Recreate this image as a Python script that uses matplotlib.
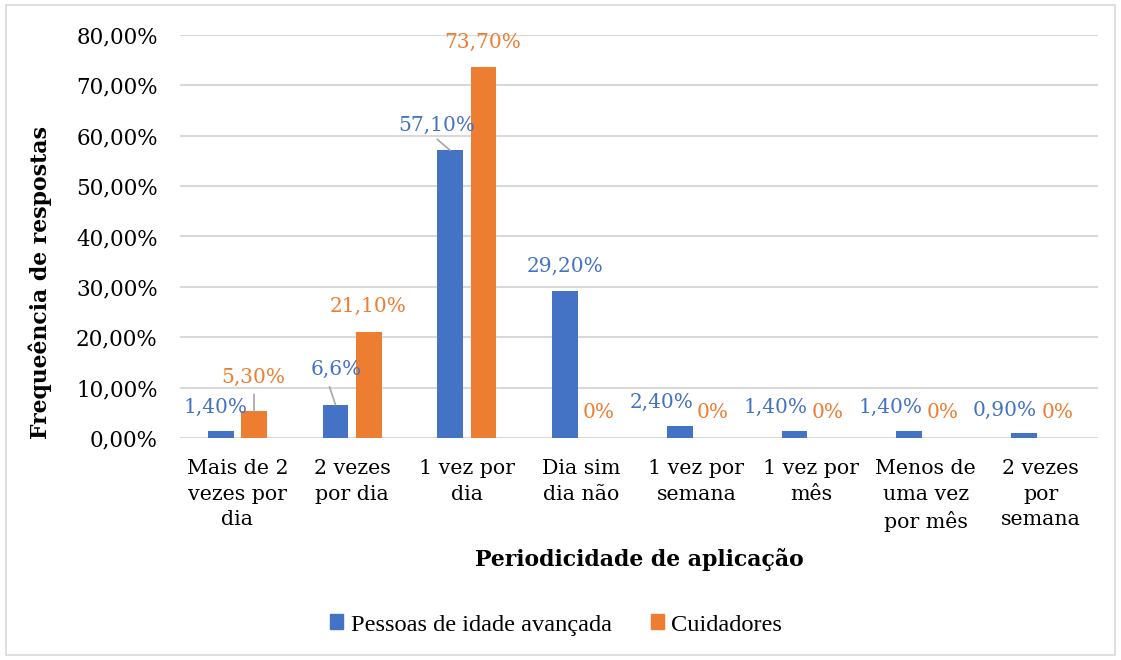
import matplotlib
matplotlib.use("Agg")
import matplotlib.pyplot as plt
from matplotlib.patches import Rectangle
import numpy as np

categories = ["Mais de 2\nvezes por\ndia", "2 vezes\npor dia", "1 vez por\ndia", "Dia sim\ndia não",
              "1 vez por\nsemana", "1 vez por\nmês", "Menos de\numa vez\npor mês", "2 vezes\npor\nsemana"]
pessoas = [1.4, 6.6, 57.1, 29.2, 2.4, 1.4, 1.4, 0.9]
cuidadores = [5.3, 21.1, 73.7, 0, 0, 0, 0, 0]
pessoas_labels = ["1,40%", "6,6%", "57,10%", "29,20%", "2,40%", "1,40%", "1,40%", "0,90%"]
cuidadores_labels = ["5,30%", "21,10%", "73,70%", "0%", "0%", "0%", "0%", "0%"]
yticks = [0, 10, 20, 30, 40, 50, 60, 70, 80]
ytick_labels = ["0,00%", "10,00%", "20,00%", "30,00%", "40,00%", "50,00%", "60,00%", "70,00%", "80,00%"]

blue = "#4472C4"
orange = "#ED7D31"
serif = "DejaVu Serif"

fig = plt.figure(figsize=(11.21, 6.6), dpi=100)
fig.patches.append(Rectangle((6/1121, 5/660), 1109/1121, 650/660, transform=fig.transFigure,
                             fill=False, edgecolor="#d9d9d9", linewidth=1.2))
ax = fig.add_axes([180/1121, 1 - 438/660, 918/1121, 403/660])

x = np.arange(len(categories))
w = 0.226
off = 0.145
ax.bar(x - off, pessoas, w, color=blue, zorder=3)
ax.bar(x + off, cuidadores, w, color=orange, zorder=3)

ax.set_xlim(-0.5, len(categories) - 0.5)
ax.set_ylim(0, 80)
ax.set_yticks(yticks)
ax.set_yticklabels(ytick_labels, fontfamily=serif, fontsize=15.5)
ax.set_xticks(x)
ax.set_xticklabels(categories, fontfamily=serif, fontsize=14.8, linespacing=1.45)
ax.tick_params(axis="both", length=0)
ax.tick_params(axis="y", pad=16)
ax.tick_params(axis="x", pad=15)
for s in ax.spines.values():
    s.set_visible(False)
ax.grid(axis="y", color="#d9d9d9", linewidth=1.5, zorder=0)
ax.set_axisbelow(True)

ax.set_ylabel("Frequeência de respostas", fontfamily=serif, fontsize=15.8, fontweight="bold")
ax.yaxis.set_label_coords(-0.139, 0.385)
ax.set_xlabel("Periodicidade de aplicação", fontfamily=serif, fontsize=15.8, fontweight="bold", labelpad=11)

# data label offsets in pixels (dx, dy) relative to bar top center
p_off = [(-5, 24), (1, 35), (-13, 25), (0, 24), (-18, 24), (-19, 24), (-19, 24), (-19, 23)]
c_off = [(-1, 34), (-1, 25), (-1, 24), (0, 25), (0, 25), (0, 25), (0, 25), (0, 25)]
for i in range(len(categories)):
    ax.annotate(pessoas_labels[i], (x[i] - off, pessoas[i]), xytext=p_off[i], textcoords="offset pixels",
                ha="center", va="center", color=blue, fontfamily=serif, fontsize=14.5, zorder=5)
    ax.annotate(cuidadores_labels[i], (x[i] + off, cuidadores[i]), xytext=c_off[i], textcoords="offset pixels",
                ha="center", va="center", color=orange, fontfamily=serif, fontsize=14.5, zorder=5)

# leader lines
ax.annotate("", (x[0] + off, cuidadores[0]), xytext=(0, 17), textcoords="offset pixels",
            arrowprops=dict(arrowstyle="-", color="#a6a6a6", lw=1.2, shrinkA=0, shrinkB=0))
ax.annotate("", (x[1] - off, pessoas[1]), xytext=(-6, 18), textcoords="offset pixels",
            arrowprops=dict(arrowstyle="-", color="#a6a6a6", lw=1.2, shrinkA=0, shrinkB=0))
ax.annotate("", (x[2] - off, pessoas[2]), xytext=(-13, 11), textcoords="offset pixels",
            arrowprops=dict(arrowstyle="-", color="#a6a6a6", lw=1.2, shrinkA=0, shrinkB=0))

handles = [Rectangle((0, 0), 1, 1, color=blue), Rectangle((0, 0), 1, 1, color=orange)]
fig.legend(handles, ["Pessoas de idade avançada", "Cuidadores"], loc="center",
           bbox_to_anchor=(556/1121, 1 - 625/660), ncol=2, frameon=False,
           prop={"family": "Liberation Serif", "size": 17.6}, handlelength=0.55, handleheight=0.55,
           handletextpad=0.3, columnspacing=1.6)

fig.savefig("out.png", dpi=100)
